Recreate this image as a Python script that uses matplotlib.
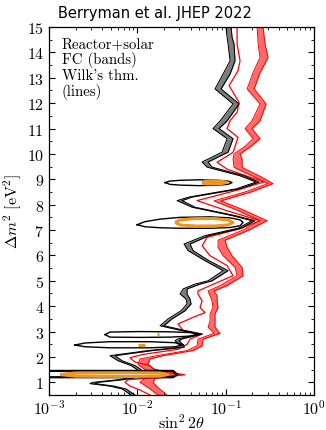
import matplotlib
matplotlib.use('Agg')
import matplotlib.pyplot as plt
from matplotlib.ticker import MultipleLocator, LogLocator, NullFormatter

plt.rcParams['font.family'] = 'serif'
plt.rcParams['font.serif'] = ['cmr10']
plt.rcParams['mathtext.fontset'] = 'cm'
plt.rcParams['axes.formatter.use_mathtext'] = True

# FC band, reactor+solar (black), upper branch down to the 1.3 eV^2 island
bk_dm2 = [15.0, 14.6, 14.33, 13.67, 13.15, 12.56, 11.97, 11.3, 11.0, 10.6, 10.07, 9.68, 9.48,
          9.14, 8.89, 8.62, 8.30, 8.16, 7.9, 7.57, 7.37, 7.07, 6.78, 6.45, 6.19, 5.79, 5.40,
          5.0, 4.87, 4.68, 4.48, 4.28, 4.09, 3.82, 3.5, 3.23, 3.05, 2.9, 2.71, 2.64, 2.45,
          2.38, 2.25, 2.05, 1.85, 1.66, 1.53, 1.46]
bk_lo = [0.1010, 0.1038, 0.1065, 0.1122, 0.0935, 0.0758, 0.1212, 0.0865, 0.0719, 0.1038, 0.0911,
         0.0541, 0.0616, 0.1455, 0.221, 0.131, 0.0385, 0.0282, 0.0416, 0.1181, 0.199, 0.1381,
         0.0585, 0.0338, 0.0375, 0.0585, 0.0935, 0.0632, 0.045, 0.033, 0.0305, 0.0356, 0.0366,
         0.0313, 0.0223, 0.0181, 0.0305, 0.0486, 0.0289, 0.0267, 0.0305, 0.0305, 0.0132,
         0.00491, 0.00604, 0.00849, 0.00967, 0.0102]
bk_hi = [0.1151, 0.1181, 0.1244, 0.1277, 0.1122, 0.0888, 0.1418, 0.1038, 0.0842, 0.1212, 0.1065,
         0.0632, 0.0701, 0.1616, 0.239, 0.1418, 0.0416, 0.0321, 0.045, 0.1277, 0.215, 0.1494,
         0.0649, 0.0395, 0.0428, 0.0649, 0.1065, 0.0701, 0.0513, 0.0366, 0.0366, 0.0395, 0.0406,
         0.0347, 0.0247, 0.0200, 0.0338, 0.0541, 0.0321, 0.0297, 0.0338, 0.0338, 0.0147,
         0.00559, 0.00671, 0.00942, 0.01074, 0.0113]

# lower branch below the island
bk2_dm2 = [1.2, 1.1, 1.0, 0.95, 0.85, 0.74, 0.5]
bk2_lo = [0.00893, 0.00604, 0.00315, 0.00291, 0.00491, 0.00671, 0.00849]
bk2_hi = [0.00993, 0.00671, 0.00359, 0.00332, 0.00545, 0.00745, 0.00942]

# Wilks' theorem islands (closed black contours)
isl_x = [
    [0.0206, 0.0234, 0.0305, 0.0499, 0.082, 0.1065, 0.1181, 0.1065, 0.082, 0.0499, 0.0305, 0.0234, 0.0206],
    [0.00993, 0.0122, 0.0181, 0.0305, 0.0666, 0.1122, 0.1455, 0.1574, 0.1455, 0.1122, 0.0666, 0.0305,
     0.0181, 0.0122, 0.00993],
    [0.00431, 0.00491, 0.0107, 0.0234, 0.0395, 0.0513, 0.0395, 0.0234, 0.0107, 0.00491, 0.00431],
    [0.00197, 0.00256, 0.00491, 0.0139, 0.0267, 0.0330, 0.0267, 0.0139, 0.00491, 0.00256, 0.00197],
]
isl_y = [
    [8.87, 8.93, 8.96, 8.98, 8.96, 8.93, 8.87, 8.80, 8.77, 8.75, 8.77, 8.80, 8.87],
    [7.21, 7.33, 7.43, 7.50, 7.52, 7.48, 7.40, 7.30, 7.17, 7.10, 7.07, 7.07, 7.09, 7.13, 7.21],
    [2.88, 2.98, 3.00, 2.99, 2.96, 2.90, 2.82, 2.78, 2.77, 2.78, 2.88],
    [2.47, 2.55, 2.60, 2.60, 2.56, 2.48, 2.40, 2.36, 2.36, 2.40, 2.47],
]
low_isl_x = [0.0008, 0.0254, 0.0282, 0.0254, 0.0008]
low_isl_y = [1.45, 1.45, 1.31, 1.20, 1.20]

# orange regions
or_x = [
    [0.0267, 0.0305, 0.045, 0.0758, 0.1065, 0.1212, 0.1065, 0.0758, 0.045, 0.0305, 0.0267],
    [0.0541, 0.060, 0.0865, 0.1038, 0.0865, 0.060, 0.0541],
    [0.00133, 0.002, 0.008, 0.018, 0.0223, 0.018, 0.008, 0.002, 0.00133],
    [0.0102, 0.0122],
    [0.0168, 0.0175],
]
or_y = [
    [7.30, 7.40, 7.45, 7.45, 7.40, 7.30, 7.20, 7.16, 7.16, 7.20, 7.30],
    [8.87, 8.92, 8.93, 8.88, 8.82, 8.82, 8.87],
    [1.31, 1.37, 1.38, 1.37, 1.31, 1.24, 1.23, 1.24, 1.31],
    [2.48, 2.48],
    [2.90, 2.90],
]

# red: Wilks line and FC band
rl_dm2 = [15.0, 14.33, 13.67, 13.28, 12.69, 12.03, 11.64, 11.31, 11.0, 10.65, 10.06, 9.67, 9.4,
          9.08, 8.9, 8.6, 8.16, 7.76, 7.37, 7.05, 6.71, 6.38, 5.99, 5.6, 5.2, 4.81, 4.6, 4.48,
          4.21, 3.95, 3.75, 3.56, 3.3, 3.04, 2.9, 2.7, 2.5, 2.3, 2.1, 1.97, 1.8, 1.66, 1.53,
          1.4, 1.3, 1.2, 1.1, 1.0, 0.85, 0.7, 0.5]
rl_x = [0.1346, 0.1346, 0.1455, 0.1381, 0.1093, 0.1418, 0.1346, 0.1122, 0.1038, 0.1381, 0.1212,
        0.0799, 0.1038, 0.189, 0.272, 0.1455, 0.0474, 0.1038, 0.245, 0.1455, 0.0616, 0.0541,
        0.0666, 0.1038, 0.1212, 0.0666, 0.0486, 0.0486, 0.0541, 0.0513, 0.0585, 0.0428, 0.0289,
        0.033, 0.0541, 0.0395, 0.0366, 0.0289, 0.0116, 0.00826, 0.00942, 0.0139, 0.0151,
        0.0206, 0.0305, 0.0181, 0.00785, 0.00726, 0.00826, 0.0107, 0.0139]

rb_dm2 = [15.0, 14.33, 13.8, 13.2, 12.56, 11.97, 11.31, 11.0, 10.6, 10.3, 10.0, 9.8, 9.47, 9.08,
          8.83, 8.5, 8.15, 7.8, 7.37, 7.0, 6.6, 6.32, 5.99, 5.53, 5.2, 4.81, 4.6, 4.41, 4.21,
          3.95, 3.7, 3.43, 3.17, 2.93, 2.7, 2.44, 2.25, 2.05, 1.92, 1.7, 1.5, 1.3, 1.15, 1.0,
          0.8, 0.5]
rb_lo = [0.227, 0.233, 0.245, 0.204, 0.1748, 0.245, 0.199, 0.166, 0.204, 0.166, 0.1244, 0.1212,
         0.1244, 0.215, 0.302, 0.166, 0.0739, 0.131, 0.245, 0.1574, 0.082, 0.082, 0.0935, 0.1277,
         0.1346, 0.0865, 0.0632, 0.0666, 0.0701, 0.0719, 0.0666, 0.0666, 0.0632, 0.0739, 0.0486,
         0.0474, 0.0366, 0.0167, 0.0107, 0.0102, 0.0122, 0.0234, 0.0122, 0.0107, 0.0132, 0.0171]
rb_hi = [0.265, 0.279, 0.302, 0.245, 0.21, 0.287, 0.245, 0.199, 0.245, 0.194, 0.1455, 0.1534,
         0.1534, 0.258, 0.344, 0.194, 0.0888, 0.1574, 0.294, 0.184, 0.0985, 0.1038, 0.1181, 0.1534,
         0.1574, 0.1038, 0.0739, 0.0799, 0.0799, 0.082, 0.0758, 0.0758, 0.0758, 0.0865, 0.0555,
         0.0541, 0.0428, 0.0195, 0.0139, 0.0132, 0.0158, 0.0347, 0.0158, 0.0151, 0.0171, 0.0217]

fig = plt.figure(figsize=(3.26, 4.31), dpi=100)
ax = fig.add_axes([0.1503, 0.0812, 0.8129, 0.8538])

# red FC band and Wilks line
ax.fill_betweenx(rb_dm2, rb_lo, rb_hi, color='#ff6b6b', lw=0)
ax.plot(rb_lo, rb_dm2, color='red', lw=0.7)
ax.plot(rb_hi, rb_dm2, color='red', lw=0.7)
ax.plot(rl_x, rl_dm2, color='red', lw=0.9)

# black FC band
for d, lo, hi in [(bk_dm2, bk_lo, bk_hi), (bk2_dm2, bk2_lo, bk2_hi)]:
    ax.fill_betweenx(d, lo, hi, color='#7c7c7c', lw=0)
    ax.plot(lo, d, color='black', lw=0.75)
    ax.plot(hi, d, color='black', lw=0.75)

for xs, ys in zip(isl_x, isl_y):
    ax.plot(xs, ys, color='black', lw=1.0)
ax.plot(low_isl_x, low_isl_y, color='black', lw=1.6)

for xs, ys in zip(or_x, or_y):
    ax.plot(xs, ys, color='#f0961e', lw=2.2, solid_capstyle='butt')

ax.set_xscale('log')
ax.set_xlim(1e-3, 1)
ax.set_ylim(0.5, 15)
ax.yaxis.set_major_locator(MultipleLocator(1))
ax.yaxis.set_minor_locator(MultipleLocator(0.5))
ax.xaxis.set_major_locator(LogLocator(base=10, numticks=10))
ax.xaxis.set_minor_locator(LogLocator(base=10, subs=range(2, 10), numticks=20))
ax.xaxis.set_minor_formatter(NullFormatter())
ax.tick_params(which='both', direction='in', top=True, right=True, labelsize=11.5)
ax.tick_params(which='major', length=4, width=0.8)
ax.tick_params(which='minor', length=2, width=0.6)
ax.tick_params(axis='x', which='major', pad=2)
for s in ax.spines.values():
    s.set_linewidth(0.9)

ax.set_xlabel(r'$\sin^2 2\theta$', fontsize=11.5, labelpad=-3)
ax.set_ylabel(r'$\Delta m^2\ [\mathrm{eV}^2]$', fontsize=11.5, labelpad=2)

ax.text(0.049, 0.975, "Reactor+solar\nFC (bands)\nWilk's thm.\n(lines)",
        transform=ax.transAxes, ha='left', va='top', fontsize=10.7, linespacing=1.1)

fig.text(0.475, 0.968, 'Berryman et al. JHEP 2022', family='DejaVu Sans',
         fontsize=10.5, ha='center', va='center')

fig.savefig('out.png', dpi=100)
